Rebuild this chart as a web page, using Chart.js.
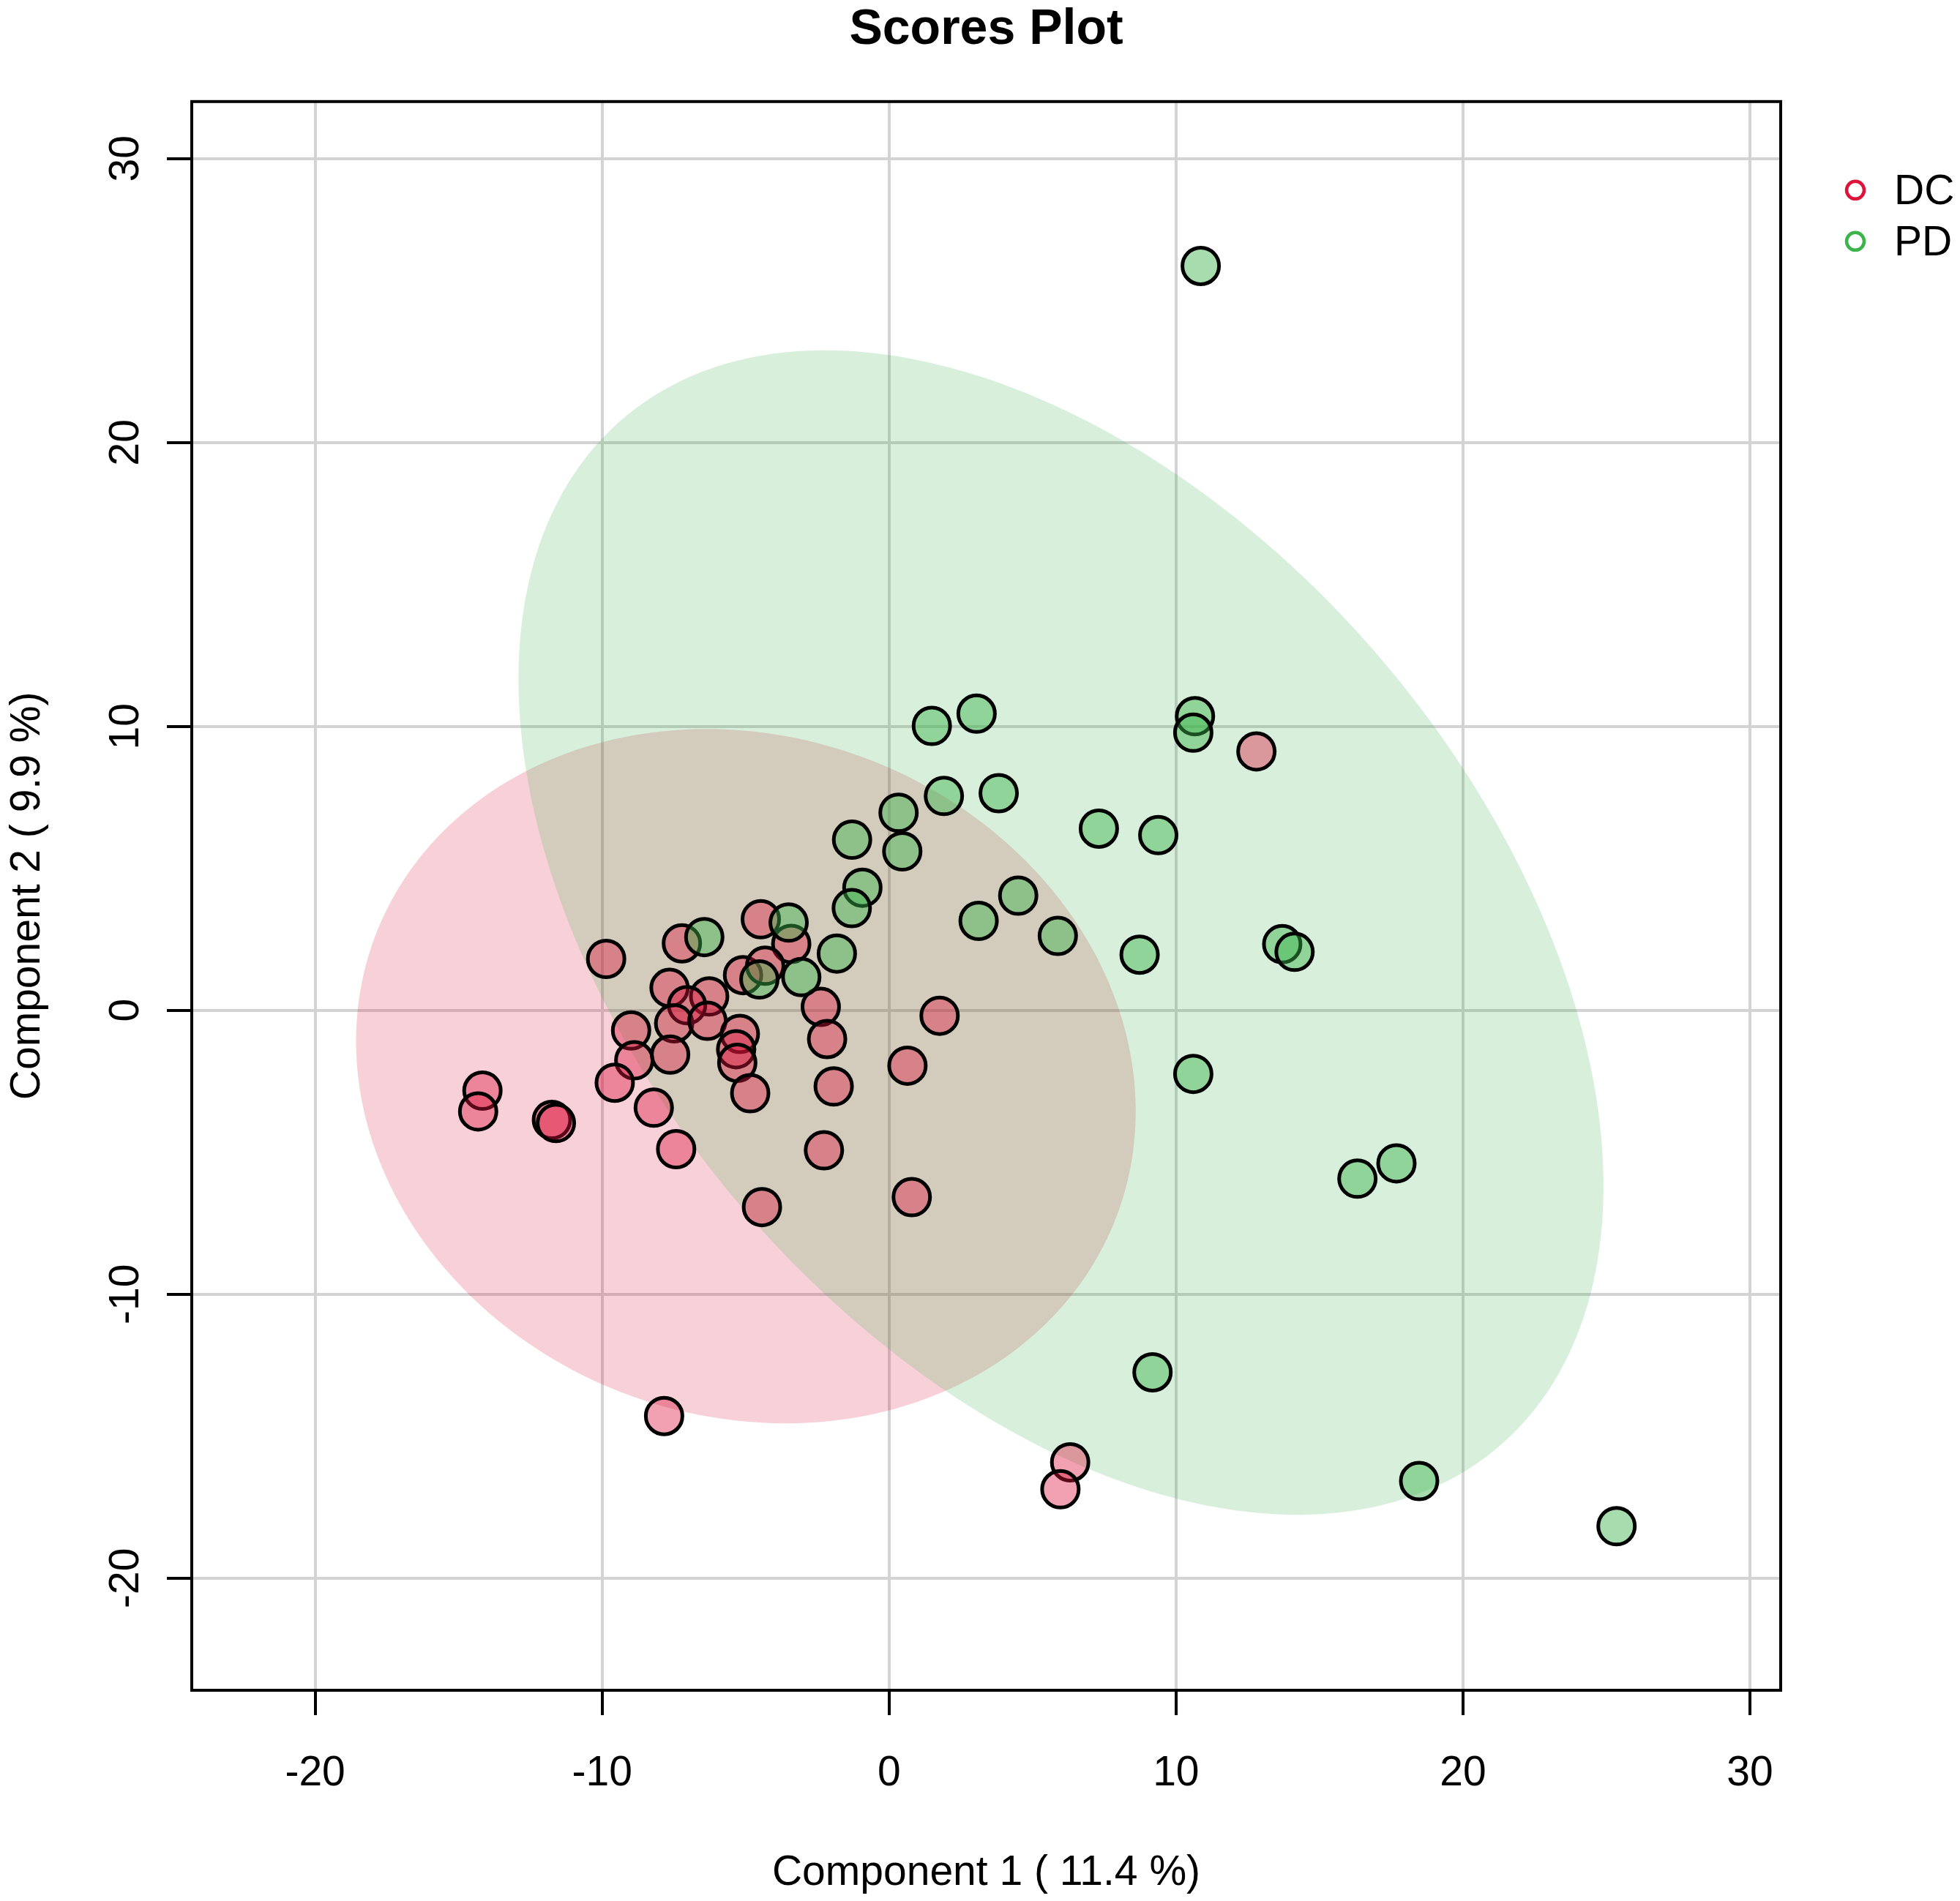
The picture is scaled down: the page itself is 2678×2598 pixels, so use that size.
<!DOCTYPE html>
<html lang="en">
<head>
<meta charset="UTF-8">
<title>Scores Plot</title>
<script src="https://cdn.jsdelivr.net/npm/chart.js"></script>
<style>
    body {
        margin: 0;
        background: #ffffff;
    }

    #wrap {
        width: 2678px;
        height: 2598px;
    }
</style>
</head>
<body>
<div id="wrap"><canvas id="scoresChart" width="2678" height="2598"></canvas></div>

<script>
    // groups shown in the legend
    const groups = ['DC', 'PD'];

    // Component 1 / Component 2 scores
    const dcX = [-9.86, -7.22, -4.47, -3.41, -5.09, -4.32, -7.65, -6.27, -7.04, -7.49,
                 -6.33, -2.38, -2.16, -5.20, -5.33, -5.29, -4.84, -8.99, -8.88, -7.63,
                 -9.56, -14.17, -14.32, -11.75, -11.61, -8.20, -7.42, -1.93, -2.27, -4.43,
                 0.64, 0.79, 1.76, 12.80, -7.84, 6.31, 5.97];
    const dcY = [1.81, 2.36, 3.21, 2.34, 1.24, 1.57, 0.79, 0.49, 0.18, -0.46,
                 -0.37, 0.12, -1.01, -0.83, -1.37, -1.85, -2.92, -0.71, -1.76, -1.56,
                 -2.55, -2.83, -3.56, -3.86, -3.97, -3.43, -4.89, -2.68, -4.93, -6.93,
                 -1.95, -6.58, -0.19, 9.12, -14.29, -15.92, -16.87];

    const pdX = [-6.44, -3.50, -3.06, -4.52, -1.82, -0.93, -1.30, -1.29, 0.46, 0.33,
                 1.49, 3.05, 1.91, 3.82, 10.66, 10.60, 7.31, 9.38, 4.50, 3.12,
                 5.88, 8.73, 13.70, 14.13, 10.60, 16.32, 17.68, 9.18, 18.47, 25.35,
                 10.86];
    const pdY = [2.58, 3.09, 1.17, 1.09, 2.00, 4.32, 3.60, 6.01, 5.60, 6.96,
                 10.02, 10.45, 7.55, 7.65, 10.36, 9.78, 6.40, 6.17, 4.04, 3.15,
                 2.62, 1.96, 2.33, 2.06, -2.24, -5.93, -5.39, -12.75, -16.58, -18.17,
                 26.22];

    const xTicks = [-20, -10, 0, 10, 20, 30];
    const yTicks = [-20, -10, 0, 10, 20, 30];

    // confidence ellipses: centre x, centre y, semi axis a, semi axis b, angle (deg), in score units
    const dcEllipse = [-4.99, -2.32, 13.83, 11.95, -21.9];
    const pdEllipse = [5.99, 2.74, 23.68, 14.74, -50.3];

    const FONT = '"Liberation Sans", Arial, Helvetica, sans-serif';
    const dcColor = [220, 20, 60];
    const pdColor = [60, 180, 75];
    const rgba = (c, a) => `rgba(${c[0]}, ${c[1]}, ${c[2]}, ${a})`;

    const toPoints = (xs, ys) => xs.map((v, i) => ({ x: v, y: ys[i] }));

    // ellipses under the points, box and legend on top
    const extrasPlugin = {
        id: 'extras',
        beforeDatasetsDraw(chart) {
            const { ctx, chartArea, scales: { x, y } } = chart;
            ctx.save();
            ctx.beginPath();
            ctx.rect(chartArea.left, chartArea.top, chartArea.width, chartArea.height);
            ctx.clip();
            [[dcEllipse, rgba(dcColor, 0.2)], [pdEllipse, rgba(pdColor, 0.2)]].forEach(([e, fill]) => {
                const [cx, cy, a, b, deg] = e;
                const phi = deg * Math.PI / 180;
                ctx.beginPath();
                for (let i = 0; i <= 240; i++) {
                    const t = i / 240 * 2 * Math.PI;
                    const px = x.getPixelForValue(cx + a * Math.cos(phi) * Math.cos(t) - b * Math.sin(phi) * Math.sin(t));
                    const py = y.getPixelForValue(cy + a * Math.sin(phi) * Math.cos(t) + b * Math.cos(phi) * Math.sin(t));
                    if (i === 0) ctx.moveTo(px, py); else ctx.lineTo(px, py);
                }
                ctx.closePath();
                ctx.fillStyle = fill;
                ctx.fill();
            });
            ctx.restore();
        },
        afterDraw(chart) {
            const { ctx, chartArea } = chart;
            ctx.save();
            // plot box
            ctx.strokeStyle = '#000';
            ctx.lineWidth = 4;
            ctx.strokeRect(chartArea.left, chartArea.top, chartArea.width, chartArea.height);

            // legend, top right outside the box
            const lx = chartArea.right + 102;
            const ly = chartArea.top + 121;
            const colors = [dcColor, pdColor];
            ctx.font = `57px ${FONT}`;
            ctx.textBaseline = 'middle';
            ctx.textAlign = 'left';
            groups.forEach((g, i) => {
                const yy = ly + i * 70;
                ctx.beginPath();
                ctx.arc(lx, yy, 12, 0, 2 * Math.PI);
                ctx.lineWidth = 4.5;
                ctx.strokeStyle = rgba(colors[i], 1);
                ctx.stroke();
                ctx.fillStyle = '#000';
                ctx.fillText(g, lx + 53, yy + 3);
            });
            ctx.restore();
        }
    };

    const ctx = document.getElementById('scoresChart').getContext('2d');
    const scoresChart = new Chart(ctx, {
        type: 'scatter',
        data: {
            datasets: [{
                label: groups[0],
                data: toPoints(dcX, dcY),
                backgroundColor: rgba(dcColor, 0.4),
                borderColor: '#000',
                borderWidth: 5,
                pointRadius: 25,
                order: 2
            },
            {
                label: groups[1],
                data: toPoints(pdX, pdY),
                backgroundColor: rgba(pdColor, 0.45),
                borderColor: '#000',
                borderWidth: 5,
                pointRadius: 25,
                order: 1
            }]
        },
        options: {
            responsive: false,
            devicePixelRatio: 1,
            animation: false,
            events: [],
            layout: {
                padding: { left: 0, right: 245, top: 0, bottom: 0 }
            },
            plugins: {
                legend: { display: false },
                tooltip: { enabled: false },
                title: {
                    display: true,
                    fullSize: false,
                    text: 'Scores Plot',
                    color: '#000',
                    font: { family: FONT, size: 68, weight: 'bold', lineHeight: 1.1 },
                    padding: { top: 4, bottom: 60 }
                }
            },
            scales: {
                x: {
                    type: 'linear',
                    min: -24.3,
                    max: 31.07,
                    afterBuildTicks: (axis) => { axis.ticks = xTicks.map(v => ({ value: v })); },
                    afterFit: (axis) => { axis.height = 288; },
                    border: { display: false },
                    grid: {
                        color: '#d3d3d3',
                        lineWidth: 4,
                        tickColor: '#000',
                        tickLength: 34,
                        tickWidth: 4
                    },
                    ticks: {
                        autoSkip: false,
                        maxRotation: 0,
                        padding: 46,
                        color: '#000',
                        font: { family: FONT, size: 57 },
                        callback: (v) => String(v)
                    },
                    title: {
                        display: true,
                        text: 'Component 1 ( 11.4 %)',
                        color: '#000',
                        font: { family: FONT, size: 57 },
                        padding: { top: 0, bottom: 4 }
                    }
                },
                y: {
                    type: 'linear',
                    min: -23.95,
                    max: 32.01,
                    afterBuildTicks: (axis) => { axis.ticks = yTicks.map(v => ({ value: v })); },
                    afterFit: (axis) => { axis.width = 262; },
                    border: { display: false },
                    grid: {
                        color: '#d3d3d3',
                        lineWidth: 4,
                        tickColor: '#000',
                        tickLength: 34,
                        tickWidth: 4
                    },
                    ticks: {
                        autoSkip: false,
                        minRotation: 90,
                        maxRotation: 90,
                        crossAlign: 'center',
                        padding: 14,
                        color: '#000',
                        font: { family: FONT, size: 57 },
                        callback: (v) => String(v)
                    },
                    title: {
                        display: true,
                        text: 'Component 2 ( 9.9 %)',
                        color: '#000',
                        font: { family: FONT, size: 57 },
                        padding: { top: 4, bottom: 0 }
                    }
                }
            }
        },
        plugins: [extrasPlugin]
    });
</script>
</body>
</html>
